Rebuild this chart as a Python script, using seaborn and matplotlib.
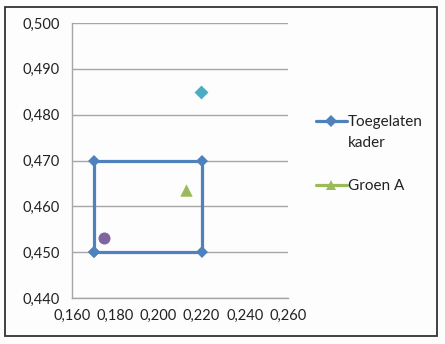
import matplotlib
matplotlib.use("Agg")
import matplotlib.pyplot as plt
import seaborn as sns
import pandas as pd
from matplotlib.patches import Rectangle
from matplotlib.lines import Line2D
from matplotlib.ticker import FuncFormatter

# data
kader_x = [0.170, 0.170, 0.220, 0.220, 0.170]
kader_y = [0.450, 0.470, 0.470, 0.450, 0.450]
groen_x = [0.213]
groen_y = [0.4635]
paars_x = [0.175]
paars_y = [0.4532]
cyaan_x = [0.2195]
cyaan_y = [0.485]
x_ticks = [0.160, 0.180, 0.200, 0.220, 0.240, 0.260]
y_ticks = [0.440, 0.450, 0.460, 0.470, 0.480, 0.490, 0.500]
labels = ["Toegelaten", "Groen A"]
label_extra = "kader"

sns.set_style("white")
plt.rcParams['font.family'] = ['Lato', 'DejaVu Sans']

BLUE = "#4F81BD"
GREEN = "#9BBB59"
PURPLE = "#8064A2"
CYAN = "#4BACC6"
TXT = "#222222"

fig = plt.figure(figsize=(4.45, 3.44), dpi=100)
fig.patch.set_facecolor("#FDFDFD")
ax = fig.add_axes([72/445, 1-298/344, (288-72)/445, (298-23)/344])
ax.set_facecolor("#FDFDFD")

df_k = pd.DataFrame({"x": kader_x, "y": kader_y})
sns.lineplot(data=df_k, x="x", y="y", sort=False, estimator=None, ax=ax,
             color=BLUE, linewidth=2.3, marker="D", markersize=6.5,
             markeredgewidth=0, zorder=3)
sns.scatterplot(x=groen_x, y=groen_y, ax=ax, color=GREEN, marker="^", s=80,
                linewidth=0, zorder=4)
sns.scatterplot(x=paars_x, y=paars_y, ax=ax, color=PURPLE, marker="o", s=75,
                linewidth=0, zorder=4)
sns.scatterplot(x=cyaan_x, y=cyaan_y, ax=ax, color=CYAN, marker="D", s=50,
                linewidth=0, zorder=4)

ax.set_xlim(x_ticks[0], x_ticks[-1])
ax.set_ylim(y_ticks[0], y_ticks[-1])
ax.set_xticks(x_ticks)
ax.set_yticks(y_ticks)
fmt = FuncFormatter(lambda v, p: f"{v:.3f}".replace(".", ","))
ax.xaxis.set_major_formatter(fmt)
ax.yaxis.set_major_formatter(fmt)
ax.set_xlabel("")
ax.set_ylabel("")
ax.grid(axis="y", color="#A6A6A6", linewidth=1.0)
ax.grid(axis="x", visible=False)
ax.set_axisbelow(True)
for s in ["top", "right"]:
    ax.spines[s].set_visible(False)
for s in ["left", "bottom"]:
    ax.spines[s].set_color("#A6A6A6")
    ax.spines[s].set_linewidth(1.0)
ax.tick_params(axis="both", which="both", length=4, width=1, color="#A6A6A6",
               labelsize=10.5, labelcolor=TXT)
ax.tick_params(axis="y", pad=5)
ax.tick_params(axis="x", pad=4)

handles = [Line2D([0], [0], color=BLUE, lw=2.3, marker="D", markersize=6.5, markeredgewidth=0),
           Line2D([0], [0], color=GREEN, lw=2.3, marker="^", markersize=7.5, markeredgewidth=0)]
leg = fig.legend(handles, labels, loc="upper left", bbox_to_anchor=(316/445, 1-115/344),
                 frameon=False, fontsize=11, handlelength=2.0, handletextpad=0.1,
                 labelspacing=3.3, labelcolor=TXT, borderpad=0, borderaxespad=0)

fig.canvas.draw()
t0 = leg.get_texts()[0]
bb = t0.get_window_extent(fig.canvas.get_renderer())
fig.text(bb.x0/445, (bb.y0 - 21)/344, label_extra, fontsize=11, color=TXT,
         ha="left", va="bottom", transform=fig.transFigure)

fig.patches.append(Rectangle((5/445, 8/344), 432/445, 329/344, transform=fig.transFigure,
                             fill=False, edgecolor="#333333", linewidth=1.3))

fig.savefig("out.png", dpi=100, facecolor=fig.get_facecolor())
